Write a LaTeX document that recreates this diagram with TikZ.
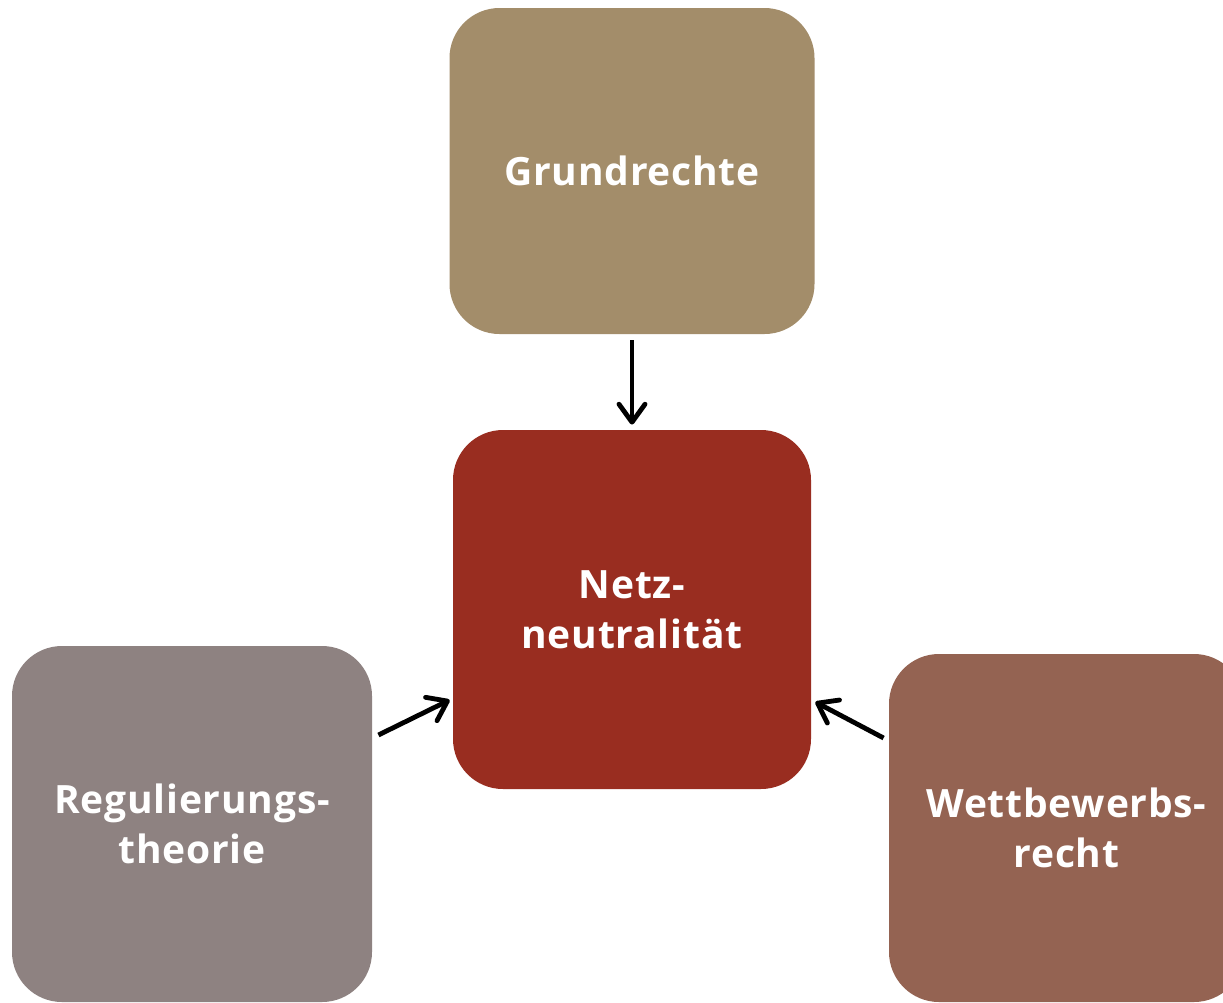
\documentclass[tikz,border=0pt]{standalone}
\usepackage{fontspec}
\setmainfont{Open Sans}
\usetikzlibrary{arrows.meta}
\definecolor{cGrund}{HTML}{A38D6A}
\definecolor{cNetz}{HTML}{992D20}
\definecolor{cReg}{HTML}{8E8281}
\definecolor{cWett}{HTML}{946352}
\tikzset{
  box/.style={rectangle, rounded corners=25pt, inner sep=0pt, text=white, align=center,
    font=\fontsize{19.5}{25}\selectfont\bfseries\addfontfeatures{LetterSpace=2}},
  arr/.style={line width=2.4pt, -{Straight Barb[length=9pt,width=13pt,line width=2.4pt,round]}}
}
\begin{document}
\begin{tikzpicture}[x=0.5pt,y=-0.5pt]
\useasboundingbox[fill=white] (0,0) rectangle (1223,1003);
\node[box, fill=cGrund, minimum width=182.5pt, minimum height=163pt] (grund) at (632,171) {Grundrechte};
\node[box, fill=cNetz, minimum width=179pt, minimum height=179.5pt] (netz) at (632,609.5) {Netz-\\neutralität};
\node[box, fill=cReg, minimum width=180pt, minimum height=178pt] (reg) at (192,824) {Regulierungs-\\theorie};
\node[box, fill=cWett, minimum width=177.5pt, minimum height=174pt] (wett) at (1066.5,828) {Wettbewerbs-\\recht};
\draw[arr] ([yshift=-3pt]grund.south) -- ([yshift=2.5pt]netz.north);
\draw[arr] ([shift={(6,-89)}]reg.east) -- ([shift={(-3,90.5)}]netz.west);
\draw[arr] ([shift={(-5,-90)}]wett.west) -- ([shift={(4,92.5)}]netz.east);
\end{tikzpicture}
\end{document}
